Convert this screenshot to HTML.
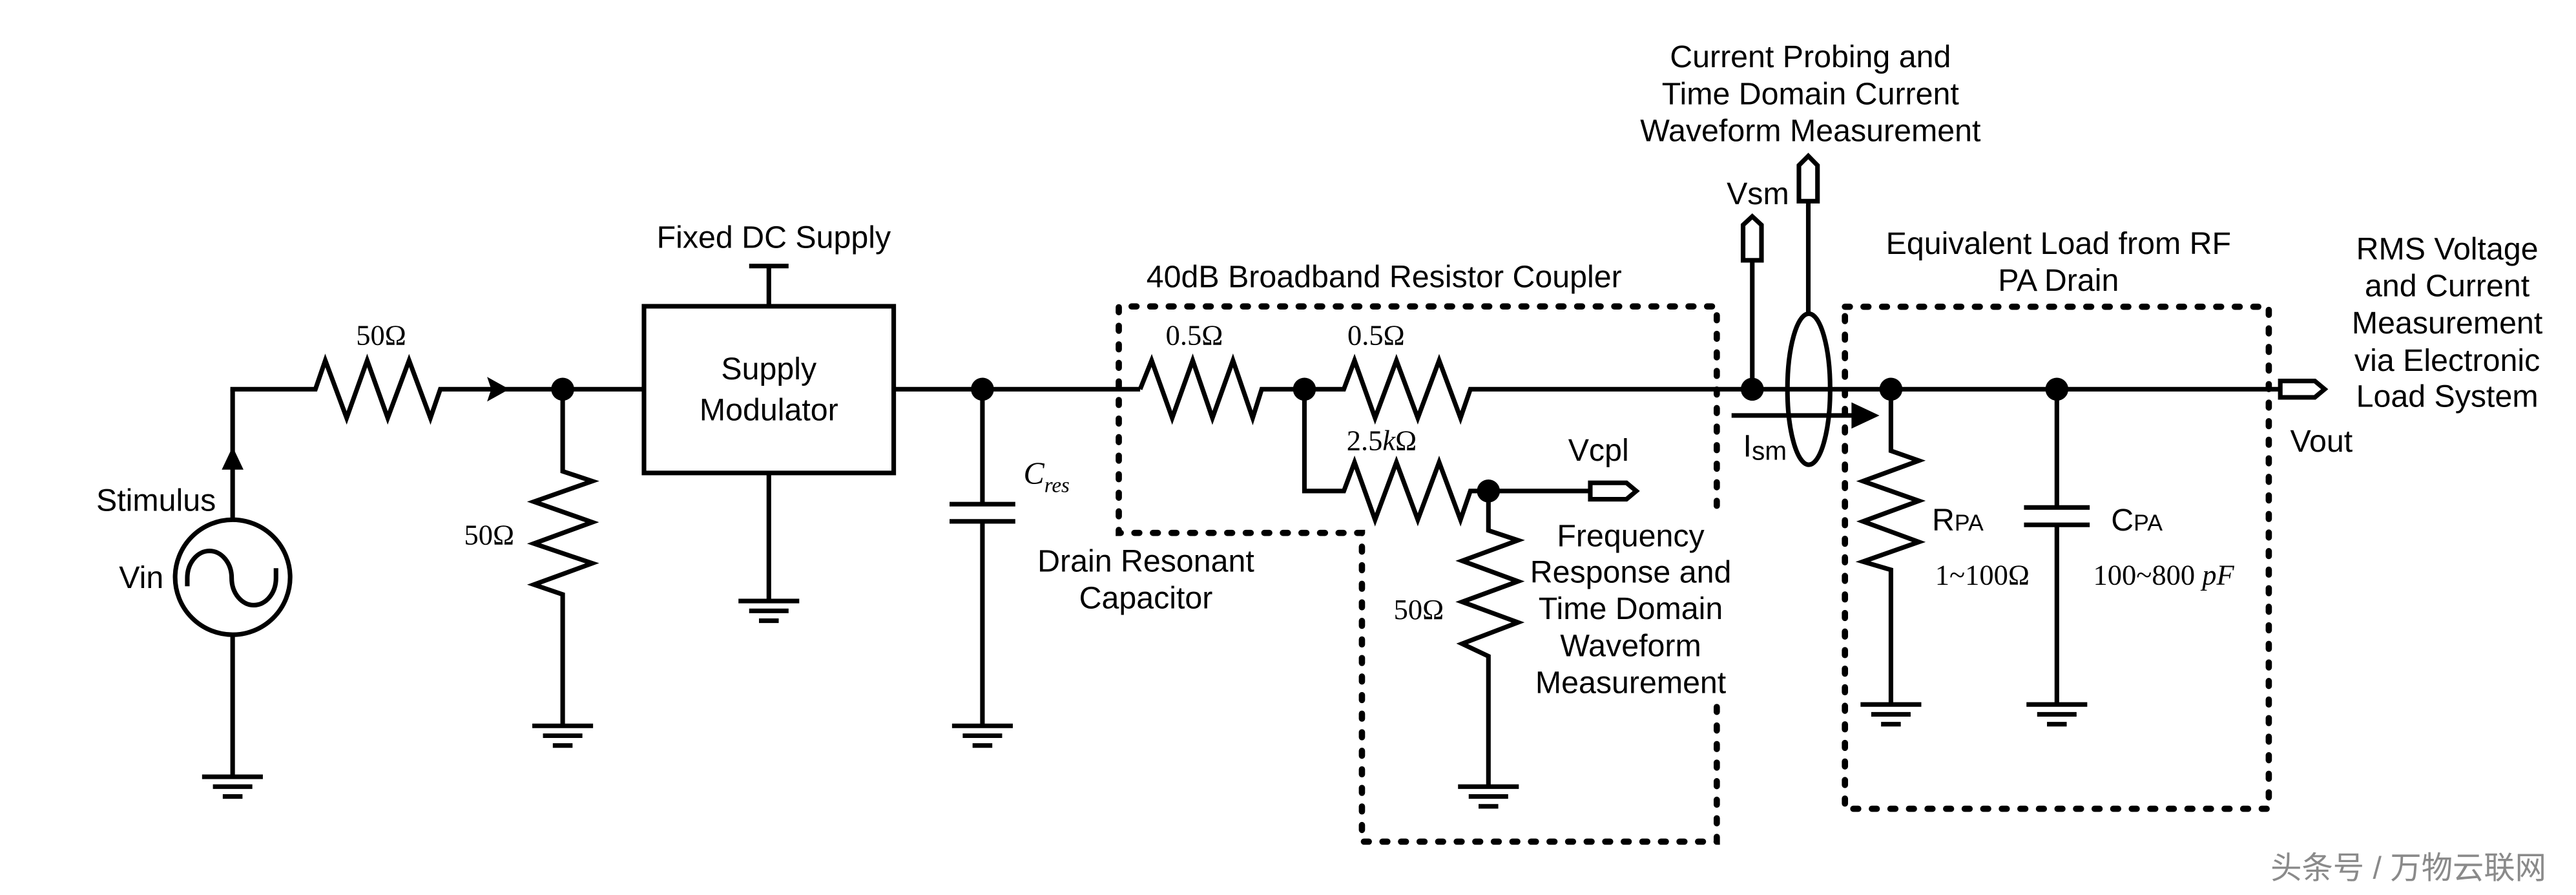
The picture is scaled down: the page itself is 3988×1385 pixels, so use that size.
<!DOCTYPE html>
<html><head><meta charset="utf-8"><style>
html,body{margin:0;padding:0;background:#fff;}
svg{display:block;}
.s{font-family:"Liberation Sans",Arial,sans-serif;font-size:19px;fill:#000;}
.r{font-family:"Liberation Serif","Times New Roman",serif;font-size:17.5px;fill:#000;}
</style></head><body>
<svg width="3988" height="1385" viewBox="0 0 1568 545" preserveAspectRatio="none" xmlns="http://www.w3.org/2000/svg">
<g fill="none" stroke="#000" stroke-width="2.8" stroke-linejoin="miter">
<!-- source -->
<circle cx="141.6" cy="351.5" r="35"/>
<path d="M114,357 L114,352 A13.5,16.5 0 0 1 141,352 A13.5,16.5 0 0 0 168,352 L168,346"/>
<line x1="141.6" y1="316.5" x2="141.6" y2="237"/>
<line x1="141.6" y1="386.5" x2="141.6" y2="473"/>
<!-- top wire -->
<polyline points="140.2,237 192,237 198,219.5 211,254.5 223.5,219.5 236,254.5 249,219.5 262,254.5 268,237 392,237"/>
<!-- vertical 50 -->
<polyline points="342.5,237 342.5,287 360.5,293 325,305.5 360.5,318 325,331 360.5,343 325,356 342.5,362 342.5,442"/>
<!-- box -->
<rect x="392" y="186.5" width="152" height="101.5"/>
<line x1="468" y1="186.5" x2="468" y2="162"/>
<line x1="456" y1="162" x2="480" y2="162"/>
<line x1="468" y1="288" x2="468" y2="366"/>
<!-- cres -->
<line x1="544" y1="237" x2="694" y2="237"/>
<line x1="598" y1="237" x2="598" y2="307"/>
<line x1="578" y1="307" x2="618" y2="307"/>
<line x1="578" y1="317.5" x2="618" y2="317.5"/>
<line x1="598" y1="317.5" x2="598" y2="442"/>
<!-- coupler resistors -->
<polyline points="694,237 701,219.5 713.5,254.5 726,219.5 738,254.5 750.5,219.5 762.5,254.5 768,237 818,237 824.5,219.5 837,254.5 850,219.5 863,254.5 876,219.5 889,254.5 895,237 1388,237"/>
<polyline points="794,237 794,299 818,299 824.5,281.5 837,316.5 850,281.5 863,316.5 876,281.5 889,316.5 895,299 968,299"/>
<polyline points="906,299 906,323 924,329 890,341.5 924,354 890,366.5 924,379 890,392 906,399.6 906,479"/>
<!-- probe -->
<line x1="1066.6" y1="237" x2="1066.6" y2="158.5"/>
<line x1="1100.7" y1="191" x2="1100.7" y2="122.5"/>
<ellipse cx="1101" cy="237" rx="13" ry="46"/>
<line x1="1054" y1="253" x2="1130" y2="253"/>
<!-- load -->
<polyline points="1151,237 1151,274.5 1168,280.5 1134,293 1168,305 1134,317.5 1168,330 1134,342 1151,347 1151,429"/>
<line x1="1252" y1="237" x2="1252" y2="309"/>
<line x1="1232" y1="309" x2="1272" y2="309"/>
<line x1="1232" y1="319.6" x2="1272" y2="319.6"/>
<line x1="1252" y1="319.6" x2="1252" y2="429"/>
<!-- ports -->
<polygon points="968,294 990,294 996,299 990,304 968,304"/>
<polygon points="1388,232 1409,232 1415,237 1409,242 1388,242"/>
<polygon points="1061,158.5 1061,137 1066.6,131.8 1072.2,137 1072.2,158.5"/>
<polygon points="1095,122.5 1095,100.7 1100.7,95 1106.3,100.7 1106.3,122.5"/>
<!-- grounds -->
<g>
<path d="M123,473h37M129.6,479h24M135.6,485h12"/>
<path d="M324,442h37M330.5,448h24M336.5,454h12"/>
<path d="M449.5,366h37M456,372h24M462,378h12"/>
<path d="M579.5,442h37M586,448h24M592,454h12"/>
<path d="M887.5,479h37M894,485h24M900,491h12"/>
<path d="M1132.5,429h37M1139,435h24M1145,441h12"/>
<path d="M1233.5,429h37M1240,435h24M1246,441h12"/>
</g>
<!-- dashed boxes -->
<g stroke-width="3.8" stroke-dasharray="3 8.3" stroke-linecap="round">
<polyline points="1045,308 1045,186.6 681,186.6 681,324.5 829,324.5 829,512.5 1045,512.5 1045,428.7"/>
<rect x="1123" y="186.8" width="258" height="305.7"/>
</g>
</g>
<g fill="#000">
<circle cx="342.5" cy="237" r="7"/>
<circle cx="598" cy="237" r="7"/>
<circle cx="794" cy="237" r="7"/>
<circle cx="906" cy="299" r="7"/>
<circle cx="1066.6" cy="237" r="7"/>
<circle cx="1151" cy="237" r="7"/>
<circle cx="1252" cy="237" r="7"/>
<polygon points="141.6,272 135,286 148.2,286"/>
<polygon points="310,237 296.5,229.5 299,237 296.5,244.5"/>
<polygon points="1144,253 1127,245 1127,261"/>
</g>
<!-- text -->
<g class="s">
<text x="95" y="311" text-anchor="middle">Stimulus</text>
<text x="86" y="358" text-anchor="middle">Vin</text>
<text x="471" y="151" text-anchor="middle">Fixed DC Supply</text>
<text x="468" y="231" text-anchor="middle">Supply</text>
<text x="468" y="256" text-anchor="middle">Modulator</text>
<text x="842.5" y="175" text-anchor="middle">40dB Broadband Resistor Coupler</text>
<text x="697.5" y="348" text-anchor="middle">Drain Resonant</text>
<text x="697.5" y="370.5" text-anchor="middle">Capacitor</text>
<text x="973" y="280.6" text-anchor="middle">Vcpl</text>
<text x="992.6" y="332.8" text-anchor="middle">Frequency</text>
<text x="992.6" y="354.7" text-anchor="middle">Response and</text>
<text x="992.6" y="377" text-anchor="middle">Time Domain</text>
<text x="992.6" y="399.6" text-anchor="middle">Waveform</text>
<text x="992.6" y="422" text-anchor="middle">Measurement</text>
<text x="1102" y="41" text-anchor="middle">Current Probing and</text>
<text x="1102" y="63.6" text-anchor="middle">Time Domain Current</text>
<text x="1102" y="86" text-anchor="middle">Waveform Measurement</text>
<text x="1070" y="124.3" text-anchor="middle">Vsm</text>
<text x="1061" y="278">I<tspan font-size="16" dy="2">sm</tspan></text>
<text x="1253" y="154.6" text-anchor="middle">Equivalent Load from RF</text>
<text x="1253" y="177" text-anchor="middle">PA Drain</text>
<text x="1176" y="323">R<tspan font-size="14">PA</tspan></text>
<text x="1285" y="323">C<tspan font-size="14">PA</tspan></text>
<text x="1394" y="275">Vout</text>
<text x="1489.6" y="158" text-anchor="middle">RMS Voltage</text>
<text x="1489.6" y="180.5" text-anchor="middle">and Current</text>
<text x="1489.6" y="203" text-anchor="middle">Measurement</text>
<text x="1489.6" y="225.8" text-anchor="middle">via Electronic</text>
<text x="1489.6" y="247.7" text-anchor="middle">Load System</text>
</g>
<g class="r">
<text x="232" y="210" text-anchor="middle">50Ω</text>
<text x="313" y="331.5" text-anchor="end">50Ω</text>
<text x="727" y="210" text-anchor="middle">0.5Ω</text>
<text x="837.6" y="210" text-anchor="middle">0.5Ω</text>
<text x="841" y="274" text-anchor="middle">2.5<tspan font-style="italic">k</tspan>Ω</text>
<text x="863.6" y="377" text-anchor="middle">50Ω</text>
<text x="623" y="294.6" font-style="italic" font-size="19">C<tspan font-size="13" dy="5">res</tspan></text>
<text x="1206.6" y="356" text-anchor="middle">1~100Ω</text>
<text x="1317" y="356" text-anchor="middle">100~800 <tspan font-style="italic">pF</tspan></text>
</g>
<text x="1466" y="535" text-anchor="middle" style="font-family:'Liberation Sans','Noto Sans CJK SC',sans-serif;font-size:19px;fill:#8a8a8a;">头条号 / 万物云联网</text>
</svg>
</body></html>
